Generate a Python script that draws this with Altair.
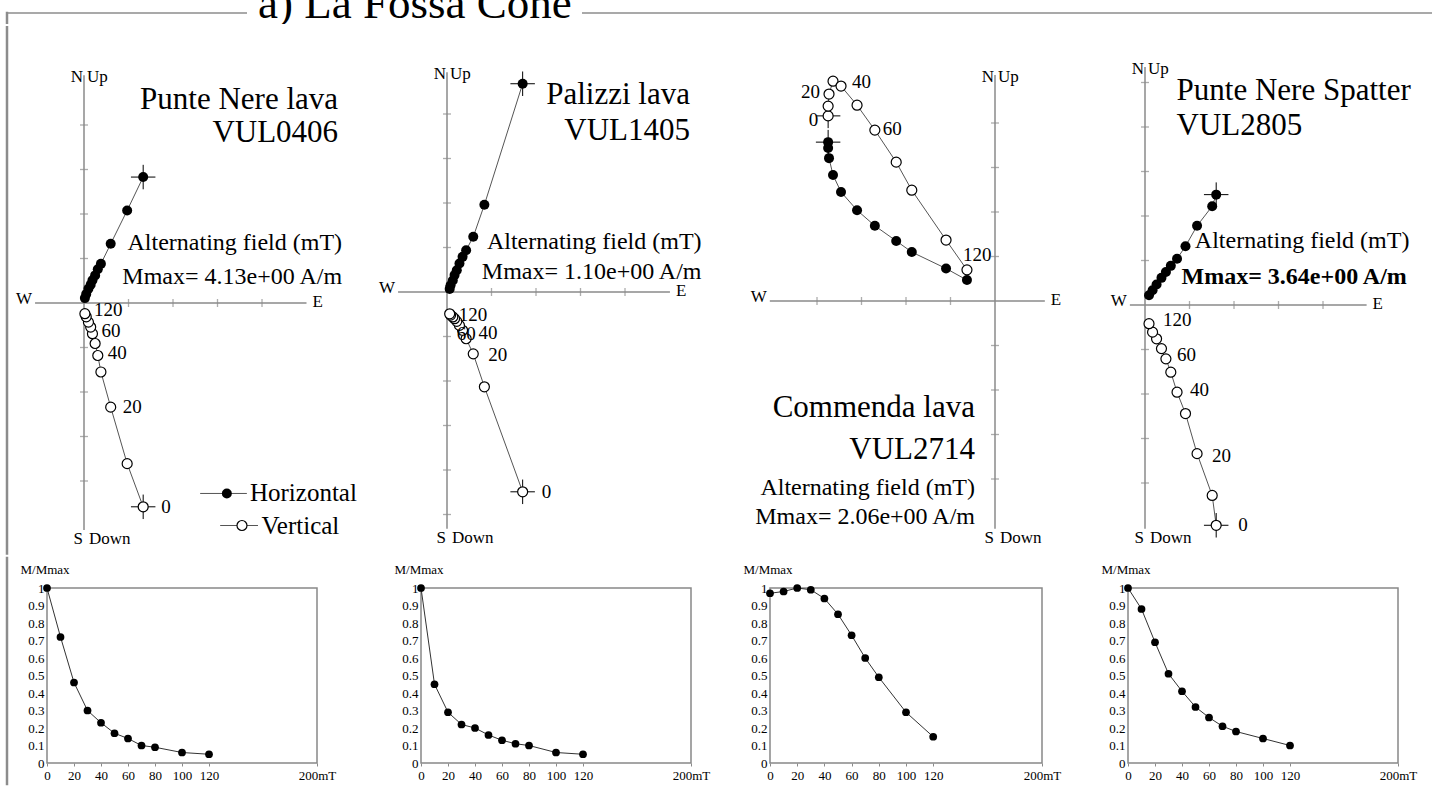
import altair as alt
import pandas as pd

FONT = "Liberation Serif"
FRAME = "#8c8c8c"
AXC = "#8a8a8a"

# ---------------- data ----------------
AF_STEPS = [0, 10, 20, 30, 40, 50, 60, 70, 80, 100, 120]
LABELED_STEPS = [0, 20, 40, 60, 120]

SAMPLE_NAMES = ["Punte Nere lava", "Palizzi lava", "Commenda lava", "Punte Nere Spatter"]
SAMPLE_IDS = ["VUL0406", "VUL1405", "VUL2714", "VUL2805"]
MMAX = ["4.13e+00", "1.10e+00", "2.06e+00", "3.64e+00"]

# Zijderveld components (axis-tick units)
VUL0406_EAST = [1.33, 0.97, 0.60, 0.38, 0.31, 0.25, 0.19, 0.15, 0.10, 0.05, 0.02]
VUL0406_NORTH = [2.83, 2.08, 1.33, 0.88, 0.76, 0.62, 0.51, 0.41, 0.32, 0.20, 0.11]
VUL0406_UP = [-4.58, -3.61, -2.34, -1.55, -1.18, -0.91, -0.69, -0.54, -0.43, -0.31, -0.24]

VUL1405_EAST = [1.70, 0.84, 0.59, 0.43, 0.35, 0.28, 0.22, 0.17, 0.13, 0.08, 0.06]
VUL1405_NORTH = [4.68, 1.96, 1.24, 0.94, 0.79, 0.64, 0.49, 0.38, 0.26, 0.15, 0.07]
VUL1405_UP = [-4.49, -2.13, -1.39, -1.05, -0.86, -0.75, -0.66, -0.60, -0.56, -0.52, -0.49]

VUL2714_EAST = [-3.75, -3.75, -3.73, -3.64, -3.46, -3.10, -2.70, -2.22, -1.87, -1.10, -0.63]
VUL2714_NORTH = [3.57, 3.44, 3.21, 2.83, 2.45, 2.04, 1.69, 1.35, 1.10, 0.73, 0.47]
VUL2714_UP = [4.16, 4.38, 4.65, 4.94, 4.83, 4.40, 3.84, 3.12, 2.49, 1.37, 0.70]

VUL2805_EAST = [1.60, 1.51, 1.17, 0.91, 0.72, 0.58, 0.47, 0.37, 0.26, 0.17, 0.09]
VUL2805_NORTH = [2.48, 2.22, 1.78, 1.32, 1.04, 0.88, 0.74, 0.61, 0.46, 0.33, 0.22]
VUL2805_UP = [-4.95, -4.28, -3.34, -2.44, -1.96, -1.51, -1.21, -0.98, -0.76, -0.61, -0.42]

# Normalised intensity decay M/Mmax
VUL0406_DEMAG = [1.00, 0.72, 0.46, 0.30, 0.23, 0.17, 0.14, 0.10, 0.09, 0.06, 0.05]
VUL1405_DEMAG = [1.00, 0.45, 0.29, 0.22, 0.20, 0.16, 0.13, 0.11, 0.10, 0.06, 0.05]
VUL2714_DEMAG = [0.97, 0.98, 1.00, 0.99, 0.94, 0.85, 0.73, 0.60, 0.49, 0.29, 0.15]
VUL2805_DEMAG = [1.00, 0.88, 0.69, 0.51, 0.41, 0.32, 0.26, 0.21, 0.18, 0.14, 0.10]

DEMAG_X_TICKS = [0, 20, 40, 60, 80, 100, 120, 200]
DEMAG_Y_TICKS = [0, 0.1, 0.2, 0.3, 0.4, 0.5, 0.6, 0.7, 0.8, 0.9, 1]

ZIJ_DATA = [
    (VUL0406_EAST, VUL0406_NORTH, VUL0406_UP),
    (VUL1405_EAST, VUL1405_NORTH, VUL1405_UP),
    (VUL2714_EAST, VUL2714_NORTH, VUL2714_UP),
    (VUL2805_EAST, VUL2805_NORTH, VUL2805_UP),
]
DEMAG_DATA = [VUL0406_DEMAG, VUL1405_DEMAG, VUL2714_DEMAG, VUL2805_DEMAG]

# ---------------- layout ----------------
PX = 44.5            # pixels per axis unit
TOP_H = 24
DEM_RULE_TOP = 30    # frame line of the demag row starts this far above the frames
DEM_OVER = 35.25     # measured extent of the demag row above its frames
ZIJ_H = 588 - TOP_H - DEM_OVER
DEM_H = 175
CROSS = "M -1 0 L 1 0 M 0 -1 L 0 1"

ZIJ_LAYOUT = [
    dict(w=365, origin=(84, 277), xext=(-1.1, 5.0), yext=(-5.1, 5.12),
         labels={0: (18, 0, "left"), 20: (12, 0, "left"), 40: (10, -3, "left"),
                 60: (9, -3, "left"), 120: (9, -4, "left")},
         texts=[(0, 5.71, 4.36, 31, "right", "normal"),
                (1, 5.71, 3.62, 31, "right", "normal"),
                (2, 5.80, 1.19, 24, "right", "normal"),
                (3, 5.80, 0.43, 24, "right", "normal")]),
    dict(w=365, origin=(82, 266), xext=(-1.1, 5.01), yext=(-5.32, 4.94),
         labels={0: (19, 0, "left"), 20: (15, 1, "left"), 40: (16, 3, "left"),
                 60: (0, 13, "left"), 120: (9, 1, "left")},
         texts=[(0, 5.46, 4.23, 31, "right", "normal"),
                (1, 5.46, 3.41, 31, "right", "normal"),
                (2, 5.72, 0.97, 24, "right", "normal"),
                (3, 5.72, 0.30, 24, "right", "normal")]),
    dict(w=355, origin=(265, 275), xext=(-5.06, 1.12), yext=(-5.12, 5.08),
         labels={0: (-10, 4, "right"), 20: (-9, -2, "right"), 40: (11, -4, "left"),
                 60: (8, -1, "left"), 120: (-4, -15, "left")},
         texts=[(0, -0.45, -2.61, 31, "right", "normal"),
                (1, -0.45, -3.54, 31, "right", "normal"),
                (2, -0.45, -4.36, 24, "right", "normal"),
                (3, -0.45, -5.00, 24, "right", "normal")]),
    dict(w=349, origin=(60, 279), xext=(-0.34, 4.98), yext=(-5.03, 5.35),
         labels={0: (22, 0, "left"), 20: (15, 2, "left"), 40: (13, -2, "left"),
                 60: (11, -4, "left"), 120: (14, -4, "left")},
         texts=[(0, 0.71, 4.60, 31, "left", "normal"),
                (1, 0.71, 3.81, 31, "left", "normal"),
                (2, 1.12, 1.27, 24, "left", "normal"),
                (3, 0.82, 0.48, 24, "left", "bold")]),
]
DEM_GAPS = [47, 104, 79, 86]
DEM_W = [270, 270, 272, 270]

DUMMY = pd.DataFrame({"a": [0]})


def zij_panel(i):
    L = ZIJ_LAYOUT[i]
    east, north, up = ZIJ_DATA[i]
    W = L["w"]
    ox, oy = L["origin"]
    xs = alt.Scale(domain=[-ox / PX, (W - ox) / PX], nice=False, zero=False)
    ys = alt.Scale(domain=[-(ZIJ_H - oy) / PX, oy / PX], nice=False, zero=False)

    def E():
        return dict(x=alt.X("x:Q", scale=xs, axis=None), y=alt.Y("y:Q", scale=ys, axis=None))

    def txt(rows, size, align, baseline="alphabetic", weight="normal"):
        df = pd.DataFrame(rows, columns=["x", "y", "t"])
        return alt.Chart(df).mark_text(font=FONT, fontSize=size, align=align, baseline=baseline,
                                       fontWeight=weight, color="black").encode(**E(), text="t:N")

    hz = pd.DataFrame({"step": AF_STEPS, "x": east, "y": north})
    vt = pd.DataFrame({"step": AF_STEPS, "x": east, "y": up})
    (x0, x1), (y0, y1) = L["xext"], L["yext"]
    axes = pd.DataFrame({"x": [x0, 0], "y": [0, y0], "x2": [x1, 0], "y2": [0, y1]})
    xt = [k for k in range(-7, 8) if k != 0 and x0 + 0.3 <= k <= x1 - 0.3]
    yt = [k for k in range(-7, 8) if k != 0 and y0 + 0.3 <= k <= y1 - 0.3]

    layers = []
    if i == 0:
        layers.append(alt.Chart(DUMMY).mark_rule(color=FRAME, strokeWidth=2.5, strokeCap="square").encode(
            x=alt.value(7), y=alt.value(1.25), y2=alt.value(ZIJ_H - 1.25)))
    layers.append(alt.Chart(axes).mark_rule(color=AXC, strokeWidth=1.5).encode(
        **E(), x2="x2:Q", y2="y2:Q"))
    layers.append(alt.Chart(pd.DataFrame({"x": xt, "y": [0] * len(xt)})).mark_tick(
        orient="vertical", size=8, thickness=1.3, color=AXC).encode(**E()))
    layers.append(alt.Chart(pd.DataFrame({"x": [0] * len(yt), "y": yt})).mark_tick(
        orient="horizontal", size=8, thickness=1.3, color=AXC).encode(**E()))

    # axis end labels
    fs = 17
    layers.append(txt([(0 - 1 / PX, y1 - 2 / PX, "N"), (0 - 1 / PX, y0 - 9 / PX, "S")], fs, "right", "middle"))
    layers.append(txt([(0 + 3 / PX, y1 - 2 / PX, "Up"), (0 + 5 / PX, y0 - 9 / PX, "Down")], fs, "left", "middle"))
    layers.append(txt([(x0 - 3 / PX, 0 + 4 / PX, "W")], fs, "right", "middle"))
    layers.append(txt([(x1 + 6 / PX, 0 + 1 / PX, "E")], fs, "left", "middle"))

    # data
    layers.append(alt.Chart(hz).mark_line(color="#555", strokeWidth=1).encode(**E(), order="step:Q"))
    layers.append(alt.Chart(vt).mark_line(color="#555", strokeWidth=1).encode(**E(), order="step:Q"))
    nrm = pd.concat([hz[hz.step == 0], vt[vt.step == 0]])
    layers.append(alt.Chart(nrm).mark_point(shape=CROSS, filled=False, stroke="black", strokeWidth=1,
                                            size=600, opacity=1).encode(**E()))
    layers.append(alt.Chart(hz).mark_point(shape="circle", filled=True, color="black", size=100,
                                           opacity=1).encode(**E()))
    layers.append(alt.Chart(vt).mark_point(shape="circle", filled=True, fill="white", stroke="black",
                                           strokeWidth=1.2, size=100, opacity=1).encode(**E()))

    # step labels
    for al in ("left", "right"):
        rows = []
        for s in LABELED_STEPS:
            dx, dy, a = L["labels"][s]
            if a != al:
                continue
            k = AF_STEPS.index(s)
            rows.append((east[k] + dx / PX, up[k] - dy / PX, str(s)))
        if rows:
            layers.append(txt(rows, 19, al, "middle"))

    # annotations
    strings = [SAMPLE_NAMES[i], SAMPLE_IDS[i], "Alternating field (mT)", f"Mmax= {MMAX[i]} A/m"]
    for (k, x, y, size, align, weight) in L["texts"]:
        layers.append(txt([(x, y, strings[k])], size, align, "alphabetic", weight))

    if i == 0:
        leg_lines = pd.DataFrame({"x": [2.61, 3.06], "x2": [3.66, 3.91], "y": [-4.28, -5.0]})
        layers.append(alt.Chart(leg_lines).mark_rule(color="#555", strokeWidth=1).encode(**E(), x2="x2:Q"))
        layers.append(alt.Chart(pd.DataFrame({"x": [3.21], "y": [-4.28]})).mark_point(
            shape="circle", filled=True, color="black", size=100, opacity=1).encode(**E()))
        layers.append(alt.Chart(pd.DataFrame({"x": [3.55], "y": [-5.0]})).mark_point(
            shape="circle", filled=True, fill="white", stroke="black", strokeWidth=1.2, size=100,
            opacity=1).encode(**E()))
        layers.append(txt([(3.73, -4.28, "Horizontal"), (3.99, -5.0, "Vertical")], 25, "left", "middle"))

    return alt.layer(*layers).properties(width=W, height=ZIJ_H)


def demag_panel(i):
    df = pd.DataFrame({"field": AF_STEPS, "m": DEMAG_DATA[i]})
    base = alt.Chart(df).encode(
        x=alt.X("field:Q", scale=alt.Scale(domain=[0, 200], nice=False, zero=False),
                axis=alt.Axis(values=DEMAG_X_TICKS, title=None, grid=False, domain=False,
                              ticks=True, tickSize=3, tickColor=AXC, labelFlush=False,
                              labelExpr="datum.value == 200 ? '200mT' : datum.label",
                              labelFont=FONT, labelFontSize=13, labelColor="black", labelPadding=3)),
        y=alt.Y("m:Q", scale=alt.Scale(domain=[0, 1], nice=False, zero=False),
                axis=alt.Axis(values=DEMAG_Y_TICKS, format="~g", title="M/Mmax", titleAngle=0,
                              titleX=-27, titleY=-15, titleAlign="left", titleBaseline="alphabetic",
                              titleFont=FONT, titleFontSize=13, titleFontWeight="normal",
                              titleColor="black", grid=False, domain=False, ticks=False,
                              labelFlush=False, labelFont=FONT, labelFontSize=13,
                              labelColor="black", labelPadding=3)),
    )
    line = base.mark_line(color="#333", strokeWidth=1)
    pts = base.mark_circle(size=60, color="black", opacity=1)
    return alt.layer(line, pts).properties(
        width=DEM_W[i], height=DEM_H,
        view=alt.ViewBackground(stroke="#888", strokeWidth=1.5))


def spacer(w, frame=False):
    if frame:
        m = alt.Chart(DUMMY).mark_rule(color=FRAME, strokeWidth=2.5, strokeCap="square").encode(
            x=alt.value(7), y=alt.value(-DEM_RULE_TOP), y2=alt.value(196))
    else:
        m = alt.Chart(DUMMY).mark_text(text="").encode(x=alt.value(0), y=alt.value(0))
    return m.properties(width=w, height=DEM_H)


top = alt.layer(
    alt.Chart(DUMMY).mark_rule(color=FRAME, strokeWidth=1.5).encode(
        x=alt.value(7), x2=alt.value(247), y=alt.value(13)),
    alt.Chart(DUMMY).mark_rule(color=FRAME, strokeWidth=1.5).encode(
        x=alt.value(582), x2=alt.value(1432), y=alt.value(13)),
    alt.Chart(DUMMY).mark_rule(color=FRAME, strokeWidth=2.5, strokeCap="square").encode(
        x=alt.value(7), y=alt.value(13), y2=alt.value(TOP_H - 1.25)),
    alt.Chart(DUMMY).mark_text(text="a) La Fossa Cone", font=FONT, fontSize=45, align="left",
                               baseline="alphabetic", clip=True, color="black").encode(
        x=alt.value(258), y=alt.value(18)),
).properties(width=1432, height=TOP_H)

zij_row = alt.hconcat(*[zij_panel(i) for i in range(4)], spacing=0, bounds="flush")

dem_items = []
for i in range(4):
    dem_items.append(spacer(DEM_GAPS[i], frame=(i == 0)))
    dem_items.append(demag_panel(i))
dem_row = alt.hconcat(*dem_items, spacing=0, bounds="flush")

chart = alt.vconcat(top, zij_row, dem_row, spacing=0, bounds="full").properties(
    padding=0).configure_view(strokeWidth=0)

chart.save("out.html", embed_options={"renderer": "svg", "actions": False})
